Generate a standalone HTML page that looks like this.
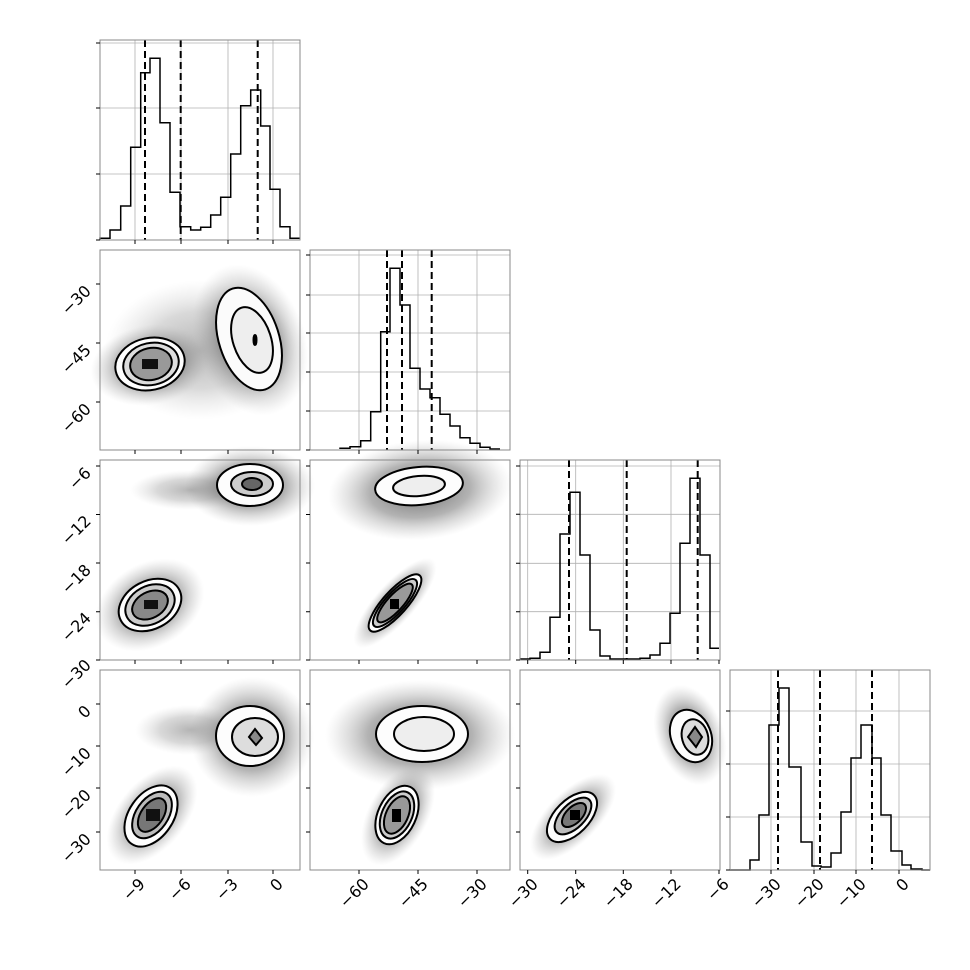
<!DOCTYPE html>
<html><head><meta charset="utf-8"><style>
html,body{margin:0;padding:0;background:#fff}
svg{display:block}
text{font-family:"DejaVu Sans","Liberation Sans",sans-serif;font-size:16px;fill:#000}
</style></head><body>
<svg width="970" height="970" viewBox="0 0 970 970" xmlns="http://www.w3.org/2000/svg">
<defs>
<radialGradient id="cl"><stop offset="0" stop-color="#444" stop-opacity="0.8"/><stop offset="0.55" stop-color="#666" stop-opacity="0.5"/><stop offset="0.85" stop-color="#999" stop-opacity="0.18"/><stop offset="1" stop-color="#bbb" stop-opacity="0"/></radialGradient>
</defs>
<rect width="970" height="970" fill="#fff"/>

<g stroke="#b0b0b0" stroke-width="0.8">
<line x1="135" y1="40" x2="135" y2="240"/><line x1="181" y1="40" x2="181" y2="240"/><line x1="228" y1="40" x2="228" y2="240"/><line x1="273" y1="40" x2="273" y2="240"/>
<line x1="100" y1="43" x2="300" y2="43"/><line x1="100" y1="108" x2="300" y2="108"/><line x1="100" y1="174" x2="300" y2="174"/>
<line x1="359" y1="250" x2="359" y2="450"/><line x1="418" y1="250" x2="418" y2="450"/><line x1="477" y1="250" x2="477" y2="450"/>
<line x1="310" y1="255" x2="510" y2="255"/><line x1="310" y1="295" x2="510" y2="295"/><line x1="310" y1="333" x2="510" y2="333"/><line x1="310" y1="372" x2="510" y2="372"/><line x1="310" y1="411" x2="510" y2="411"/>
<line x1="527.7" y1="460" x2="527.7" y2="660"/><line x1="575.7" y1="460" x2="575.7" y2="660"/><line x1="623.3" y1="460" x2="623.3" y2="660"/><line x1="671" y1="460" x2="671" y2="660"/>
<line x1="520" y1="466" x2="720" y2="466"/><line x1="520" y1="514.3" x2="720" y2="514.3"/><line x1="520" y1="563.3" x2="720" y2="563.3"/><line x1="520" y1="611.7" x2="720" y2="611.7"/>
<line x1="771" y1="670" x2="771" y2="870"/><line x1="814" y1="670" x2="814" y2="870"/><line x1="856" y1="670" x2="856" y2="870"/><line x1="899" y1="670" x2="899" y2="870"/>
<line x1="730" y1="711" x2="930" y2="711"/><line x1="730" y1="764" x2="930" y2="764"/><line x1="730" y1="817" x2="930" y2="817"/>
</g>

<g fill="none" stroke="#000" stroke-width="1.5">
<path d="M100,240 V238.3 H110 V230 H120.7 V206 H130.7 V147.3 H140.7 V72.7 H150 V58.3 H160 V122.7 H170 V192.3 H180 V226.7 H190.7 V230 H200.7 V227.3 H210.7 V215 H220.7 V197.3 H230.7 V154 H240.7 V105.7 H250.7 V90 H260.7 V126 H270 V189.3 H280 V226.7 H290 V238.3 H300"/>
<path d="M340,449 V448.3 H350 V446.7 H360.7 V440.7 H370.7 V411.7 H380.7 V331.7 H390 V268.3 H400 V305 H410 V368.3 H420 V389 H430 V397.7 H440 V414.3 H450 V426 H460 V437.7 H470 V443.3 H480 V447.3 H490 V449 H500"/>
<path d="M520,659 H530 V658.3 H540 V652.3 H550 V617.3 H560 V534 H570 V492.3 H580 V555 H590 V630 H600 V656 H610 V659 H640 V658.3 H650 V655 H660 V643.3 H670 V613.3 H680 V543.3 H690 V478.3 H700 V555 H710 V648.3 H719"/>
<path d="M730,870 H750 V860 H759 V815 H769 V725 H779 V688 H789 V767 H801 V842 H812 V866 H821 V867 H831 V853 H841 V812 H851 V758 H861 V725 H872 V758 H881 V815 H891 V851 H902 V865 H911 V869 H922 V870 H930"/>
</g>
<g stroke="#000" stroke-width="2" stroke-dasharray="7,4">
<line x1="145" y1="40" x2="145" y2="240"/><line x1="180.7" y1="40" x2="180.7" y2="240"/><line x1="257.7" y1="40" x2="257.7" y2="240"/>
<line x1="387" y1="250" x2="387" y2="450"/><line x1="402" y1="250" x2="402" y2="450"/><line x1="431.7" y1="250" x2="431.7" y2="450"/>
<line x1="569" y1="460" x2="569" y2="660"/><line x1="626.7" y1="460" x2="626.7" y2="660"/><line x1="697.7" y1="460" x2="697.7" y2="660"/>
<line x1="778" y1="670" x2="778" y2="870"/><line x1="820" y1="670" x2="820" y2="870"/><line x1="872" y1="670" x2="872" y2="870"/>
</g>

<g>
<ellipse cx="200" cy="350" rx="95" ry="70" fill="url(#cl)" opacity="0.5"/>
<ellipse cx="150" cy="365" rx="60" ry="40" transform="rotate(-10 150 365)" fill="url(#cl)"/>
<ellipse cx="250" cy="340" rx="55" ry="78" transform="rotate(-20 250 340)" fill="url(#cl)"/>
<ellipse cx="150" cy="605" rx="58" ry="42" transform="rotate(-30 150 605)" fill="url(#cl)"/>
<ellipse cx="250" cy="486" rx="65" ry="40" fill="url(#cl)"/>
<ellipse cx="190" cy="490" rx="60" ry="20" fill="url(#cl)" opacity="0.5"/>
<ellipse cx="420" cy="490" rx="92" ry="50" transform="rotate(-5 420 490)" fill="url(#cl)"/>
<ellipse cx="395" cy="603" rx="58" ry="20" transform="rotate(-48 395 603)" fill="url(#cl)"/>
<ellipse cx="252" cy="737" rx="62" ry="60" fill="url(#cl)"/>
<ellipse cx="190" cy="730" rx="55" ry="25" fill="url(#cl)" opacity="0.5"/>
<ellipse cx="152" cy="815" rx="58" ry="34" transform="rotate(-50 152 815)" fill="url(#cl)"/>
<ellipse cx="420" cy="735" rx="95" ry="55" fill="url(#cl)"/>
<ellipse cx="398" cy="815" rx="55" ry="30" transform="rotate(-62 398 815)" fill="url(#cl)"/>
<ellipse cx="690" cy="735" rx="34" ry="52" transform="rotate(-20 690 735)" fill="url(#cl)"/>
<ellipse cx="573" cy="817" rx="55" ry="26" transform="rotate(-45 573 817)" fill="url(#cl)"/>
</g>

<g stroke="#000" stroke-width="2">
<ellipse cx="150" cy="364" rx="35" ry="26" transform="rotate(-12 150 364)" fill="#fdfdfd"/>
<ellipse cx="151" cy="364" rx="28" ry="21" transform="rotate(-12 151 364)" fill="#ddd"/>
<ellipse cx="151" cy="364" rx="21" ry="16" transform="rotate(-12 151 364)" fill="#999"/>
<rect x="142" y="359" width="16" height="10" fill="#111" stroke="none"/>
<ellipse cx="249" cy="339" rx="30" ry="53" transform="rotate(-18 249 339)" fill="#fbfbfb"/>
<ellipse cx="252" cy="340" rx="19" ry="34" transform="rotate(-18 252 340)" fill="#eee"/>
<ellipse cx="255" cy="340" rx="1.5" ry="5" fill="#000"/>
<ellipse cx="250" cy="485" rx="33" ry="21" fill="#fdfdfd"/>
<ellipse cx="252" cy="484" rx="21" ry="12" fill="#ccc"/>
<ellipse cx="252" cy="484" rx="10" ry="6" fill="#666"/>
<ellipse cx="150" cy="605" rx="33" ry="24" transform="rotate(-28 150 605)" fill="#fdfdfd"/>
<ellipse cx="150" cy="605" rx="26" ry="19" transform="rotate(-28 150 605)" fill="#ccc"/>
<ellipse cx="150" cy="605" rx="19" ry="13" transform="rotate(-28 150 605)" fill="#888"/>
<rect x="144" y="600" width="14" height="9" fill="#111" stroke="none"/>
<ellipse cx="419" cy="486" rx="44" ry="19" transform="rotate(-5 419 486)" fill="#fdfdfd"/>
<ellipse cx="419" cy="486" rx="26" ry="10" transform="rotate(-5 419 486)" fill="#eee"/>
<ellipse cx="395" cy="603" rx="37" ry="12" transform="rotate(-48 395 603)" fill="#fdfdfd"/>
<ellipse cx="395" cy="603" rx="31" ry="10" transform="rotate(-48 395 603)" fill="#ccc"/>
<ellipse cx="395" cy="603" rx="25" ry="8" transform="rotate(-48 395 603)" fill="#999"/>
<rect x="390" y="599" width="9" height="10" fill="#000" stroke="none"/>
<ellipse cx="250" cy="736" rx="34" ry="30" fill="#fdfdfd"/>
<ellipse cx="255" cy="737" rx="23" ry="19" fill="#ddd"/>
<path d="M255,729 L262,738 L256,745 L249,737 Z" fill="#888"/>
<ellipse cx="151" cy="816" rx="34" ry="22" transform="rotate(-55 151 816)" fill="#fdfdfd"/>
<ellipse cx="152" cy="815" rx="26" ry="16" transform="rotate(-55 152 815)" fill="#bbb"/>
<ellipse cx="152" cy="815" rx="19" ry="11" transform="rotate(-55 152 815)" fill="#777"/>
<rect x="146" y="809" width="14" height="12" fill="#111" stroke="none"/>
<ellipse cx="422" cy="734" rx="46" ry="28" fill="#fdfdfd"/>
<ellipse cx="424" cy="734" rx="30" ry="17" fill="#eee"/>
<ellipse cx="397" cy="815" rx="31" ry="19" transform="rotate(-65 397 815)" fill="#fdfdfd"/>
<ellipse cx="397" cy="815" rx="25" ry="15" transform="rotate(-65 397 815)" fill="#ccc"/>
<ellipse cx="397" cy="815" rx="20" ry="11" transform="rotate(-65 397 815)" fill="#999"/>
<rect x="392" y="809" width="9" height="13" fill="#000" stroke="none"/>
<ellipse cx="691" cy="736" rx="20" ry="27" transform="rotate(-22 691 736)" fill="#fdfdfd"/>
<ellipse cx="695" cy="737" rx="13" ry="18" transform="rotate(-15 695 737)" fill="#ddd"/>
<path d="M695,727 L702,737 L696,747 L688,737 Z" fill="#888"/>
<ellipse cx="572" cy="817" rx="31" ry="17" transform="rotate(-45 572 817)" fill="#fdfdfd"/>
<ellipse cx="573" cy="816" rx="23" ry="12" transform="rotate(-45 573 816)" fill="#bbb"/>
<ellipse cx="574" cy="815" rx="15" ry="8" transform="rotate(-45 574 815)" fill="#777"/>
<rect x="570" y="810" width="10" height="10" fill="#000" stroke="none"/>
</g>

<g fill="none" stroke="#888" stroke-width="1">
<rect x="100" y="40" width="200" height="200"/>
<rect x="100" y="250" width="200" height="200"/><rect x="310" y="250" width="200" height="200"/>
<rect x="100" y="460" width="200" height="200"/><rect x="310" y="460" width="200" height="200"/><rect x="520" y="460" width="200" height="200"/>
<rect x="100" y="670" width="200" height="200"/><rect x="310" y="670" width="200" height="200"/><rect x="520" y="670" width="200" height="200"/><rect x="730" y="670" width="200" height="200"/>
</g>

<g stroke="#000" stroke-width="1">
<path d="M96,43H100M96,108H100M96,174H100M96,240H100"/>
<path d="M96,284H100M96,343H100M96,402H100 M306,255H310M306,295H310M306,333H310M306,372H310M306,411H310M306,450H310"/>
<path d="M96,466H100M96,514.5H100M96,563H100M96,611.7H100M96,660H100 M306,466H310M306,514.5H310M306,563H310M306,611.7H310M306,660H310 M516,466H520M516,514.3H520M516,563.3H520M516,611.7H520M516,660H520"/>
<path d="M96,704H100M96,746H100M96,788H100M96,832H100 M306,704H310M306,746H310M306,788H310M306,832H310 M516,704H520M516,746H520M516,788H520M516,832H520 M726,711H730M726,764H730M726,817H730M726,870H730"/>
<path d="M135,240V244M181,240V244M228,240V244M273,240V244 M135,450V454M181,450V454M228,450V454M273,450V454 M135,660V664M181,660V664M228,660V664M273,660V664 M135,870V874M181,870V874M228,870V874M273,870V874"/>
<path d="M359,450V454M418,450V454M477,450V454 M359,660V664M418,660V664M477,660V664 M359,870V874M418,870V874M477,870V874"/>
<path d="M527.7,660V664M575.7,660V664M623.3,660V664M671,660V664M719,660V664 M527.7,870V874M575.7,870V874M623.3,870V874M671,870V874M719,870V874"/>
<path d="M771,870V874M814,870V874M856,870V874M899,870V874"/>
</g>

<g text-anchor="end">
<text transform="translate(92,292) rotate(-45)">−30</text>
<text transform="translate(92,351) rotate(-45)">−45</text>
<text transform="translate(92,410) rotate(-45)">−60</text>
<text transform="translate(92,474) rotate(-45)">−6</text>
<text transform="translate(92,522) rotate(-45)">−12</text>
<text transform="translate(92,571) rotate(-45)">−18</text>
<text transform="translate(92,619) rotate(-45)">−24</text>
<text transform="translate(92,666) rotate(-45)">−30</text>
<text transform="translate(92,712) rotate(-45)">0</text>
<text transform="translate(92,754) rotate(-45)">−10</text>
<text transform="translate(92,796) rotate(-45)">−20</text>
<text transform="translate(92,840) rotate(-45)">−30</text>
</g>
<g text-anchor="end">
<text transform="translate(146,885) rotate(-45)">−9</text>
<text transform="translate(192,885) rotate(-45)">−6</text>
<text transform="translate(239,885) rotate(-45)">−3</text>
<text transform="translate(284,885) rotate(-45)">0</text>
<text transform="translate(370,885) rotate(-45)">−60</text>
<text transform="translate(429,885) rotate(-45)">−45</text>
<text transform="translate(488,885) rotate(-45)">−30</text>
<text transform="translate(539,885) rotate(-45)">−30</text>
<text transform="translate(587,885) rotate(-45)">−24</text>
<text transform="translate(634,885) rotate(-45)">−18</text>
<text transform="translate(682,885) rotate(-45)">−12</text>
<text transform="translate(730,885) rotate(-45)">−6</text>
<text transform="translate(782,885) rotate(-45)">−30</text>
<text transform="translate(825,885) rotate(-45)">−20</text>
<text transform="translate(867,885) rotate(-45)">−10</text>
<text transform="translate(910,885) rotate(-45)">0</text>
</g>
</svg>
</body></html>
